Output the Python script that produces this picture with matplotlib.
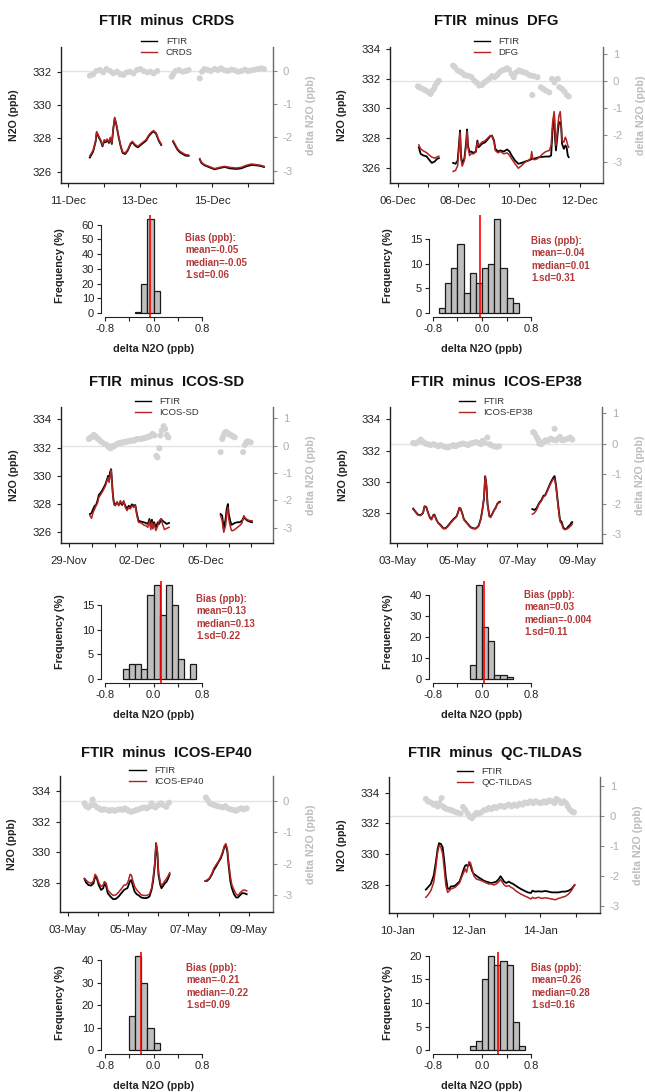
import numpy as np
import matplotlib
matplotlib.use("Agg")
import matplotlib.pyplot as plt

nan = np.nan

# ---------------- data (time in days from first tick date) ----------------
names = ["CRDS", "DFG", "ICOS-SD", "ICOS-EP38", "ICOS-EP40", "QC-TILDAS"]
day_labels = [
    ["11-Dec", "", "13-Dec", "", "15-Dec", ""],
    ["06-Dec", "", "08-Dec", "", "10-Dec", "", "12-Dec"],
    ["29-Nov", "", "", "02-Dec", "", "", "05-Dec", "", ""],
    ["03-May", "", "05-May", "", "07-May", "", "09-May"],
    ["03-May", "", "05-May", "", "07-May", "", "09-May"],
    ["10-Jan", "", "12-Jan", "", "14-Jan", ""],
]
n2o_ticks = [[326, 328, 330, 332], [326, 328, 330, 332, 334], [326, 328, 330, 332, 334],
             [328, 330, 332, 334], [328, 330, 332, 334], [328, 330, 332, 334]]
delta_ticks = [[-3, -2, -1, 0], [-3, -2, -1, 0, 1], [-3, -2, -1, 0, 1],
               [-3, -2, -1, 0, 1], [-3, -2, -1, 0], [-3, -2, -1, 0, 1]]

# panel 1 : CRDS
t1 = [0.61, 0.70, 0.77, 0.80, 0.86, 0.92, 0.96, 1.01, 1.05, 1.09, 1.14, 1.18, 1.22, 1.26, 1.30, 1.35,
      1.40, 1.46, 1.52, 1.59, 1.66, 1.74, 1.79, 1.87, 1.94, 2.02, 2.09, 2.17, 2.24, 2.32, 2.38, 2.45,
      2.52, 2.59, nan, 2.92, 2.97, 3.04, 3.11, 3.20, 3.27, 3.35, nan, 3.66, 3.70, 3.79, 3.93, 4.07,
      4.21, 4.35, 4.49, 4.67, 4.81, 4.95, 5.09, 5.23, 5.35, 5.44]
ftir1 = [326.85, 327.20, 327.80, 328.35, 328.05, 327.80, 327.52, 327.85, 327.76, 327.90, 327.72, 328.00,
         327.66, 328.56, 329.20, 328.76, 328.16, 327.56, 327.12, 327.06, 327.26, 327.66, 327.76, 327.56,
         327.46, 327.60, 327.72, 327.86, 328.12, 328.32, 328.42, 328.26, 327.86, 327.60, nan, 327.80,
         327.60, 327.32, 327.16, 327.04, 326.96, 326.95, nan, 326.74, 326.54, 326.38, 326.26, 326.14,
         326.22, 326.28, 326.20, 326.16, 326.20, 326.32, 326.40, 326.38, 326.34, 326.28]
ref1 = [326.95, 327.28, 327.85, 328.40, 328.12, 327.86, 327.58, 327.92, 327.82, 327.96, 327.78, 328.06,
        327.72, 328.62, 329.26, 328.82, 328.22, 327.62, 327.18, 327.12, 327.32, 327.72, 327.82, 327.62,
        327.52, 327.66, 327.78, 327.92, 328.18, 328.38, 328.46, 328.32, 327.92, 327.66, nan, 327.86,
        327.66, 327.38, 327.22, 327.10, 327.02, 327.00, nan, 326.78, 326.58, 326.42, 326.30, 326.18,
        326.26, 326.32, 326.26, 326.22, 326.26, 326.38, 326.46, 326.42, 326.38, 326.32]
td1 = [0.61, 0.70, 0.79, 0.89, 0.98, 1.07, 1.17, 1.26, 1.36, 1.45, 1.54, 1.64, 1.73, 1.82, 1.92, 2.01,
       2.10, 2.20, 2.29, 2.38, 2.48, 2.88, 2.92, 2.99, 3.08, 3.18, 3.27, 3.35, 3.66, 3.72, 3.79, 3.88,
       3.97, 4.07, 4.16, 4.25, 4.35, 4.44, 4.53, 4.63, 4.72, 4.81, 4.91, 5.00, 5.09, 5.19, 5.28, 5.37, 5.44]
d1 = [-0.15, -0.11, -0.01, 0.02, -0.05, 0.05, -0.01, -0.08, -0.03, -0.11, -0.13, -0.05, -0.03, -0.08,
      0.02, 0.05, -0.01, -0.05, -0.03, -0.08, -0.01, -0.18, -0.11, -0.01, 0.02, -0.03, -0.01, 0.02,
      -0.23, -0.03, 0.05, 0.02, -0.01, 0.05, 0.02, 0.07, 0.01, -0.01, 0.03, 0.01, -0.03, -0.01, 0.03,
      -0.01, 0.01, 0.03, 0.05, 0.07, 0.05]

# panel 2 : DFG
t2 = [0.70, 0.76, 0.85, 0.95, 1.06, 1.13, 1.22, 1.30, 1.36, nan, 1.83, 1.91, 1.98, 2.02, 2.06, 2.09,
      2.13, 2.20, 2.26, 2.29, 2.32, 2.37, 2.42, 2.50, 2.58, 2.63, 2.67, 2.78, 2.89, 3.00, 3.06, 3.11,
      3.18, 3.22, 3.31, 3.39, 3.50, 3.61, 3.69, 3.76, 3.87, 3.98, 4.09, 4.20, 4.31, 4.39, 4.42, 4.46,
      4.56, 4.67, 4.78, 4.89, 5.00, 5.06, 5.11, 5.16, 5.19, 5.22, 5.28, 5.32, 5.36, 5.39, 5.42, 5.48,
      5.53, 5.57, 5.61, 5.64]
ftir2 = [327.38, 326.93, 326.82, 326.77, 326.48, 326.32, 326.41, 326.59, 326.64, nan, 326.32, 326.26,
         326.48, 327.50, 328.51, 326.82, 326.26, 326.59, 327.72, 328.58, 327.50, 327.05, 327.09, 327.00,
         327.09, 327.83, 327.38, 327.61, 327.72, 327.99, 328.13, 328.17, 327.83, 327.27, 327.09, 327.16,
         327.09, 327.23, 327.09, 326.82, 326.48, 326.26, 326.32, 326.41, 326.48, 326.55, 326.59, 326.59,
         326.64, 326.71, 326.73, 326.75, 326.75, 326.82, 328.62, 329.60, 327.95, 327.16, 328.40, 329.07,
         329.07, 328.85, 327.61, 327.27, 327.50, 327.38, 326.82, 326.71]
ref2 = [327.54, 327.27, 327.13, 327.02, 326.82, 326.71, 326.64, 326.73, 326.77, nan, 325.74, 325.81,
        326.14, 327.27, 328.35, 326.59, 326.10, 326.48, 327.50, 328.44, 327.38, 326.82, 326.93, 326.93,
        327.05, 327.72, 327.50, 327.72, 327.83, 328.06, 328.17, 328.13, 327.72, 327.16, 327.00, 327.09,
        326.93, 327.00, 326.82, 326.59, 326.26, 325.96, 326.14, 326.37, 326.46, 326.64, 327.09, 326.55,
        326.55, 326.69, 326.93, 327.09, 327.16, 327.50, 329.07, 329.79, 328.40, 327.50, 328.85, 329.52,
        329.79, 329.07, 327.83, 327.72, 328.06, 327.83, 327.50, 327.38]
td2 = [0.67, 0.72, 0.78, 0.87, 0.94, 1.02, 1.09, 1.14, 1.20, 1.24, 1.30, 1.36,
       1.83, 1.89, 1.98, 2.06, 2.13, 2.20, 2.28, 2.36, 2.44, 2.53, 2.61, 2.69, 2.78, 2.87, 2.94, 3.02,
       3.11, 3.20, 3.28, 3.36, 3.44, 3.53, 3.61, 3.67, 3.76, 3.83, 3.91, 4.00, 4.09, 4.17, 4.24, 4.33,
       4.41, 4.44, 4.50, 4.61, 4.72, 4.80, 4.89, 5.00, 5.09, 5.17, 5.28, 5.33, 5.42, 5.50, 5.58, 5.64]
d2 = [-0.19, -0.22, -0.26, -0.31, -0.35, -0.41, -0.47, -0.35, -0.28, -0.16, -0.06, 0.02,
      0.58, 0.52, 0.40, 0.36, 0.31, 0.23, 0.21, 0.19, 0.15, 0.02, -0.06, -0.16, -0.14, -0.04, 0.02, 0.09,
      0.19, 0.15, 0.23, 0.33, 0.40, 0.43, 0.48, 0.43, 0.27, 0.15, 0.33, 0.40, 0.36, 0.33, 0.31, 0.23,
      0.21, -0.51, 0.19, 0.15, -0.22, -0.28, -0.35, -0.41, 0.09, -0.04, 0.09, -0.22, -0.28, -0.38, -0.51, -0.56]

# panel 3 : ICOS-SD
t3 = [0.92, 0.99, 1.06, 1.13, 1.19, 1.25, 1.31, 1.38, 1.45, 1.53, 1.60, 1.67, 1.72, 1.76, 1.80, 1.85,
      1.89, 1.93, 1.98, 2.04, 2.11, 2.18, 2.25, 2.33, 2.40, 2.47, 2.55, 2.62, 2.69, 2.76, 2.84, 2.91,
      2.98, 3.05, 3.17, 3.27, 3.37, 3.46, 3.53, 3.59, 3.64, 3.68, 3.74, 3.81, 3.90, 3.96, 4.04, 4.10,
      4.19, 4.29, 4.39, nan, 6.65, 6.72, 6.79, 6.87, 6.92, 6.97, 7.01, 7.07, 7.13, 7.20, 7.27, 7.39,
      7.49, 7.59, 7.67, 7.74, 7.83, 7.93, 8.03]
ftir3 = [327.29, 327.36, 327.65, 327.88, 327.93, 328.24, 328.64, 328.78, 328.94, 329.18, 329.41, 329.76,
         330.00, 329.65, 330.24, 330.47, 329.53, 328.59, 328.00, 328.00, 328.12, 327.93, 328.12, 327.93,
         328.16, 327.88, 327.65, 327.88, 327.76, 327.98, 327.88, 327.93, 327.29, 326.82, 326.75, 326.71,
         326.66, 326.59, 326.94, 326.47, 326.89, 326.52, 326.71, 326.35, 326.71, 326.59, 326.94, 326.82,
         326.71, 326.59, 326.66, nan, 327.29, 327.18, 326.24, 326.94, 327.65, 328.00, 327.29, 326.82,
         326.52, 326.59, 326.66, 326.71, 326.71, 326.82, 327.06, 326.94, 326.82, 326.75, 326.71]
ref3 = [327.18, 326.99, 327.41, 327.65, 327.88, 328.07, 328.47, 328.64, 328.82, 329.06, 329.29, 329.65,
        329.88, 329.53, 330.00, 330.42, 329.41, 328.47, 327.93, 327.88, 328.16, 327.88, 328.24, 328.00,
        328.24, 327.76, 327.53, 327.76, 327.65, 327.88, 327.76, 327.88, 327.18, 326.71, 326.66, 326.52,
        326.47, 326.35, 326.82, 326.19, 326.71, 326.24, 326.59, 326.12, 326.47, 326.82, 326.94, 326.59,
        326.19, 326.28, 326.35, nan, 327.18, 326.82, 326.00, 326.47, 327.29, 327.76, 326.94, 326.47,
        326.12, 326.12, 326.19, 326.35, 326.47, 326.66, 327.18, 326.99, 326.89, 326.82, 326.82]
td3 = [0.87, 0.93, 0.99, 1.04, 1.09, 1.16, 1.22, 1.28, 1.36, 1.45, 1.56, 1.67, 1.75, 1.82, 1.89, 1.95,
       2.01, 2.11, 2.18, 2.25, 2.33, 2.40, 2.47, 2.55, 2.62, 2.69, 2.76, 2.84, 2.91, 2.98, 3.05, 3.13,
       3.20, 3.27, 3.35, 3.42, 3.49, 3.56, 3.62, 3.67, 3.75, 3.83, 3.88, 3.96, 4.01, 4.07, 4.15, 4.22,
       4.29, 4.36, 6.65, 6.72, 6.77, 6.81, 6.86, 6.91, 6.96, 7.01, 7.07, 7.13, 7.20, 7.27, 7.64, 7.71,
       7.78, 7.83, 7.88, 7.97]
d3 = [0.24, 0.28, 0.30, 0.36, 0.39, 0.34, 0.29, 0.24, 0.18, 0.12, 0.06, 0.02, -0.06, -0.10, -0.02, -0.04,
      0.00, 0.06, 0.08, 0.10, 0.11, 0.12, 0.13, 0.15, 0.16, 0.18, 0.18, 0.18, 0.21, 0.24, 0.24, 0.24,
      0.25, 0.27, 0.28, 0.30, 0.32, 0.34, 0.38, 0.43, 0.37, -0.37, -0.43, -0.10, 0.37, 0.55, 0.71, 0.61,
      0.39, 0.30, -0.24, 0.24, 0.34, 0.43, 0.49, 0.49, 0.46, 0.43, 0.39, 0.37, 0.34, 0.30, -0.24, 0.02,
      0.12, 0.15, 0.15, 0.12]

# panel 4 : ICOS-EP38
t4 = [0.53, 0.61, 0.69, 0.78, 0.86, 0.91, 0.97, 1.02, 1.09, 1.14, 1.20, 1.24, 1.30, 1.36, 1.44, 1.53,
      1.61, 1.69, 1.78, 1.87, 1.93, 1.98, 2.02, 2.07, 2.11, 2.17, 2.22, 2.29, 2.36, 2.44, 2.53, 2.62,
      2.71, 2.78, 2.83, 2.89, 2.93, 2.97, 3.01, 3.07, 3.11, 3.17, 3.22, 3.28, 3.33, 3.39, 3.42, nan,
      4.50, 4.56, 4.64, 4.72, 4.80, 4.87, 4.93, 5.00, 5.07, 5.13, 5.19, 5.24, 5.29, 5.33, 5.38, 5.42,
      5.48, 5.53, 5.59, 5.64, 5.70, 5.76, 5.81, 5.83]
ftir4 = [328.30, 328.10, 327.92, 327.88, 328.02, 328.45, 328.40, 328.08, 327.72, 327.62, 327.88, 327.92,
         327.62, 327.40, 327.26, 327.05, 327.04, 327.20, 327.42, 327.62, 327.72, 327.82, 328.04, 328.35,
         328.30, 327.98, 327.62, 327.46, 327.30, 327.12, 327.04, 327.03, 327.20, 327.62, 328.14, 328.98,
         330.36, 329.82, 328.56, 327.82, 327.78, 327.98, 328.18, 328.36, 328.60, 328.72, 328.74, nan,
         328.27, 328.21, 328.32, 328.63, 328.84, 329.12, 329.16, 329.47, 329.79, 330.04, 330.25, 330.38,
         329.79, 329.05, 328.21, 327.58, 327.43, 327.09, 326.99, 327.01, 327.16, 327.26, 327.43, 327.43]
ref4 = [328.27, 328.06, 327.89, 327.85, 328.00, 328.42, 328.36, 328.06, 327.68, 327.58, 327.85, 327.89,
        327.58, 327.37, 327.22, 327.01, 327.01, 327.16, 327.37, 327.58, 327.68, 327.79, 328.00, 328.32,
        328.27, 327.94, 327.58, 327.43, 327.26, 327.09, 327.01, 327.01, 327.16, 327.58, 328.11, 328.95,
        330.38, 329.79, 328.53, 327.79, 327.73, 327.94, 328.15, 328.32, 328.57, 328.67, 328.69, nan,
        327.94, 328.00, 328.21, 328.57, 328.78, 329.05, 329.12, 329.41, 329.73, 329.96, 330.17, 330.21,
        329.68, 328.95, 328.11, 327.47, 327.31, 327.01, 326.95, 326.99, 327.05, 327.16, 327.26, 327.31]
td4 = [0.53, 0.61, 0.69, 0.78, 0.87, 0.94, 1.02, 1.11, 1.20, 1.28, 1.36, 1.44, 1.53, 1.61, 1.69, 1.78,
       1.87, 1.94, 2.02, 2.11, 2.20, 2.28, 2.36, 2.44, 2.53, 2.62, 2.71, 2.78, 2.84, 2.91, 3.00, 3.07,
       3.13, 3.22, 3.31, 3.39, 4.53, 4.58, 4.64, 4.69, 4.73, 4.80, 4.87, 4.94, 5.02, 5.11, 5.19, 5.24,
       5.29, 5.36, 5.42, 5.50, 5.58, 5.67, 5.76, 5.83]
d4 = [0.02, 0.00, 0.05, 0.13, 0.05, 0.00, -0.02, -0.05, -0.02, -0.05, -0.09, -0.05, -0.09, -0.11, -0.13,
      -0.09, -0.05, -0.09, -0.05, -0.02, 0.00, -0.02, -0.05, 0.00, 0.02, 0.05, 0.02, -0.02, 0.09, 0.02,
      0.20, -0.02, -0.05, -0.09, -0.11, -0.09, 0.38, 0.33, 0.22, 0.13, 0.00, -0.02, 0.05, 0.11, 0.09,
      0.16, 0.13, 0.49, 0.11, 0.16, 0.22, 0.11, 0.13, 0.16, 0.20, 0.13]

# panel 5 : ICOS-EP40
t5 = [0.56, 0.61, 0.69, 0.78, 0.86, 0.91, 0.97, 1.03, 1.11, 1.18, 1.22, 1.28, 1.33, 1.42, 1.51, 1.60,
      1.69, 1.78, 1.87, 1.93, 1.98, 2.02, 2.07, 2.11, 2.17, 2.22, 2.29, 2.36, 2.44, 2.53, 2.62, 2.71,
      2.78, 2.83, 2.89, 2.93, 2.97, 3.01, 3.07, 3.11, 3.17, 3.22, 3.28, 3.33, 3.38, nan, 4.56, 4.61,
      4.69, 4.78, 4.84, 4.91, 5.00, 5.07, 5.13, 5.20, 5.24, 5.29, 5.33, 5.39, 5.44, 5.51, 5.58, 5.64,
      5.70, 5.78, 5.84, 5.93]
ftir5 = [328.28, 328.06, 327.89, 327.85, 328.00, 328.43, 328.32, 327.89, 327.57, 327.68, 328.00, 327.79,
         327.36, 327.14, 326.97, 326.99, 327.14, 327.36, 327.57, 327.64, 327.68, 327.89, 328.15, 328.21,
         327.79, 327.46, 327.29, 327.21, 327.08, 327.04, 327.04, 327.14, 327.57, 328.11, 329.18, 330.57,
         330.03, 328.54, 327.89, 327.68, 327.85, 328.00, 328.11, 328.32, 328.58, nan, 328.15, 328.15,
         328.28, 328.58, 328.86, 329.07, 329.39, 329.61, 329.93, 330.42, 330.46, 330.03, 329.18, 328.11,
         327.68, 327.29, 327.08, 327.08, 327.21, 327.36, 327.36, 327.29]
ref5 = [328.32, 328.21, 328.06, 328.00, 328.15, 328.58, 328.43, 328.06, 327.79, 327.89, 328.11, 328.00,
        327.57, 327.36, 327.21, 327.25, 327.42, 327.64, 327.89, 327.89, 328.00, 328.21, 328.58, 328.54,
        328.11, 327.79, 327.57, 327.42, 327.25, 327.21, 327.21, 327.29, 327.68, 328.32, 329.39, 330.63,
        330.14, 328.75, 328.06, 327.85, 328.00, 328.15, 328.32, 328.47, 328.69, nan, 328.15, 328.21,
        328.32, 328.64, 328.96, 329.18, 329.43, 329.71, 330.03, 330.46, 330.57, 330.21, 329.39, 328.43,
        327.89, 327.57, 327.29, 327.21, 327.36, 327.51, 327.57, 327.51]
td5 = [0.56, 0.61, 0.69, 0.78, 0.83, 0.89, 0.98, 1.06, 1.13, 1.22, 1.31, 1.39, 1.47, 1.56, 1.64, 1.73,
       1.82, 1.89, 1.96, 2.02, 2.11, 2.20, 2.28, 2.36, 2.44, 2.53, 2.62, 2.71, 2.78, 2.84, 2.91, 3.00,
       3.09, 3.18, 3.27, 3.36, 4.58, 4.64, 4.71, 4.78, 4.87, 4.96, 5.04, 5.13, 5.22, 5.31, 5.40, 5.49,
       5.58, 5.67, 5.76, 5.84, 5.93]
d5 = [-0.08, -0.17, -0.21, -0.14, 0.04, -0.14, -0.21, -0.25, -0.29, -0.27, -0.29, -0.32, -0.29, -0.32,
      -0.29, -0.27, -0.29, -0.24, -0.27, -0.32, -0.35, -0.32, -0.29, -0.27, -0.24, -0.21, -0.24, -0.19,
      -0.08, -0.17, -0.21, -0.14, -0.08, -0.14, -0.19, -0.06, 0.11, 0.02, -0.08, -0.11, -0.14, -0.17,
      -0.19, -0.21, -0.17, -0.24, -0.27, -0.29, -0.32, -0.27, -0.24, -0.27, -0.24]

# panel 6 : QC-TILDAS
t6 = [0.80, 0.86, 0.94, 1.02, 1.08, 1.13, 1.17, 1.22, 1.27, 1.32, 1.36, 1.41, 1.46, 1.50, 1.55, 1.62,
      1.67, 1.74, 1.80, 1.86, 1.90, 1.94, 1.97, 2.01, 2.05, 2.09, 2.14, 2.21, 2.27, 2.35, 2.42, 2.49,
      2.56, 2.63, 2.71, 2.77, 2.84, 2.89, 2.93, 2.99, 3.05, 3.12, 3.18, 3.24, 3.31, 3.38, 3.46, 3.55,
      3.65, 3.74, 3.78, 3.85, 3.95, 4.04, 4.14, 4.23, 4.32, 4.42, 4.51, 4.61, 4.70, 4.79, 4.87, 4.92, 4.96]
ftir6 = [327.70, 327.85, 328.07, 328.61, 329.48, 330.35, 330.72, 330.67, 330.46, 329.48, 328.50, 327.78,
         327.74, 327.91, 327.91, 327.96, 328.07, 328.22, 328.61, 329.04, 329.26, 329.30, 329.22, 329.37,
         329.26, 328.93, 328.72, 328.61, 328.50, 328.39, 328.28, 328.22, 328.17, 328.13, 328.17, 328.22,
         328.39, 328.57, 328.43, 328.22, 328.13, 328.22, 328.13, 328.07, 327.96, 327.85, 327.74, 327.63,
         327.52, 327.48, 327.63, 327.57, 327.59, 327.57, 327.61, 327.57, 327.52, 327.52, 327.52, 327.57,
         327.57, 327.63, 327.74, 327.89, 328.00]
ref6 = [327.20, 327.35, 327.63, 328.17, 329.15, 330.13, 330.57, 330.46, 330.02, 328.93, 327.96, 327.52,
        327.63, 327.74, 327.78, 327.85, 327.96, 328.13, 328.50, 328.83, 329.04, 328.83, 329.15, 329.52,
        329.43, 329.09, 328.61, 328.39, 328.35, 328.28, 328.22, 328.13, 328.07, 328.07, 328.00, 328.07,
        328.22, 328.35, 328.22, 328.00, 327.91, 327.96, 327.85, 327.78, 327.63, 327.52, 327.41, 327.30,
        327.20, 327.09, 327.20, 327.13, 327.20, 327.13, 327.17, 327.13, 327.09, 327.04, 327.13, 327.20,
        327.26, 327.41, 327.63, 327.85, 328.00]
td6 = [0.80, 0.86, 0.94, 1.02, 1.08, 1.13, 1.18, 1.24, 1.28, 1.33, 1.39, 1.46, 1.52, 1.60, 1.67, 1.77,
       1.84, 1.90, 1.97, 2.03, 2.09, 2.14, 2.21, 2.27, 2.35, 2.42, 2.49, 2.56, 2.63, 2.71, 2.77, 2.84,
       2.91, 2.99, 3.05, 3.12, 3.20, 3.27, 3.35, 3.42, 3.50, 3.57, 3.65, 3.72, 3.80, 3.87, 3.95, 4.02,
       4.10, 4.17, 4.25, 4.32, 4.40, 4.45, 4.51, 4.59, 4.66, 4.72, 4.77, 4.83, 4.89, 4.94]
d6 = [0.56, 0.48, 0.44, 0.37, 0.40, 0.31, 0.42, 0.59, 0.31, 0.26, 0.22, 0.20, 0.18, 0.14, 0.11, 0.07,
      0.29, 0.20, 0.07, -0.04, -0.08, 0.00, 0.09, 0.07, 0.11, 0.18, 0.20, 0.26, 0.22, 0.29, 0.26, 0.31,
      0.33, 0.29, 0.33, 0.37, 0.31, 0.37, 0.33, 0.40, 0.37, 0.44, 0.42, 0.48, 0.42, 0.48, 0.44, 0.42,
      0.48, 0.44, 0.51, 0.48, 0.42, 0.56, 0.51, 0.42, 0.48, 0.42, 0.31, 0.20, 0.14, 0.11]

# histograms of delta N2O (bin edges, frequency %)
edges = [[-0.3, -0.2, -0.1, 0.0, 0.1],
         [-0.7, -0.6, -0.5, -0.4, -0.3, -0.2, -0.1, 0.0, 0.1, 0.2, 0.3, 0.4, 0.5, 0.6],
         [-0.5, -0.4, -0.3, -0.2, -0.1, 0.0, 0.1, 0.2, 0.3, 0.4, 0.5, 0.6, 0.7],
         [-0.2, -0.1, 0.0, 0.1, 0.2, 0.3, 0.4, 0.5],
         [-0.4, -0.3, -0.2, -0.1, 0.0, 0.1],
         [-0.2, -0.1, 0.0, 0.1, 0.2, 0.3, 0.4, 0.5, 0.6, 0.7]]
freqs = [[1, 20, 64, 15],
         [1, 6, 9, 14, 4, 8, 6, 9, 10, 19, 9, 3, 2],
         [2, 3, 3, 2, 17, 19, 13, 19, 15, 4, 0, 3],
         [7, 45, 25, 18, 2, 2, 1],
         [15, 42, 30, 10, 3],
         [1, 2, 15, 20, 18, 19, 18, 6, 1]]
freq_ticks = [[0, 10, 20, 30, 40, 50, 60], [0, 5, 10, 15], [0, 5, 10, 15],
              [0, 10, 20, 30, 40], [0, 10, 20, 30, 40], [0, 5, 10, 15, 20]]
bias_mean = [-0.05, -0.04, 0.13, 0.03, -0.21, 0.26]
bias_median = ["-0.05", "0.01", "0.13", "-0.004", "-0.22", "0.28"]
bias_sd = ["0.06", "0.31", "0.22", "0.11", "0.09", "0.16"]

times = [t1, t2, t3, t4, t5, t6]
ftirs = [ftir1, ftir2, ftir3, ftir4, ftir5, ftir6]
refs = [ref1, ref2, ref3, ref4, ref5, ref6]
dtimes = [td1, td2, td3, td4, td5, td6]
deltas = [d1, d2, d3, d4, d5, d6]

# ---------------- layout (pixels) ----------------
W, H = 645, 1092
top_box = [(61, 47, 273, 183), (390, 47, 603, 183), (61, 407, 273, 543),
           (390, 407, 602, 543), (60, 776, 273, 912), (389, 777, 600, 913)]
hist_box = [(101, 215, 206, 317), (429, 215, 535, 317), (101, 581, 206, 683),
            (429, 581, 535, 683), (101, 952, 206, 1054), (429, 952, 535, 1054)]
title_y = [21, 21, 382, 382, 753, 753]
stats_xy = [(185, 233), (531, 236), (196, 594), (524, 590), (186, 963), (531, 963)]
xlims = [(-0.19, 5.69), (-0.25, 6.77), (-0.35, 8.95), (-0.24, 6.82), (-0.25, 6.80), (-0.23, 5.67)]
ylims = [(325.32, 333.48), (324.96, 334.16), (325.24, 334.87), (326.10, 334.79), (326.14, 334.95), (326.18, 335.02)]
dlims = [(-3.37, 0.71), (-3.77, 1.27), (-3.56, 1.41), (-3.29, 1.21), (-3.54, 0.79), (-3.24, 1.29)]

plt.rcParams['font.family'] = ['Liberation Sans', 'DejaVu Sans']
plt.rcParams['axes.unicode_minus'] = False

fig = plt.figure(figsize=(W / 100, H / 100), dpi=100)


def box(l, t, r, b):
    return [l / W, 1 - b / H, (r - l) / W, (b - t) / H]


DARK = '#222222'
REDLINE = '#b22222'
BIAS = '#b23a3a'

for i in range(6):
    l, t, r, b = top_box[i]
    ax = fig.add_axes(box(l, t, r, b))
    ax2 = ax.twinx()
    ax.set_zorder(ax2.get_zorder() + 1)
    ax.patch.set_visible(False)

    ax2.axhline(0, color='#e4e4e4', lw=1.0, zorder=1)
    ax2.scatter(dtimes[i], deltas[i], s=19, color='#d3d3d3', edgecolors='none', zorder=2)
    ax.plot(times[i], ftirs[i], color='black', lw=1.3, label='FTIR')
    ax.plot(times[i], refs[i], color=REDLINE, lw=1.1, label=names[i])

    ax.set_xlim(xlims[i])
    ax.set_ylim(ylims[i])
    ax2.set_ylim(dlims[i])
    ax.set_xticks(range(len(day_labels[i])))
    ax.set_xticklabels(day_labels[i])
    ax.set_yticks(n2o_ticks[i])
    ax.set_yticklabels([str(v) for v in n2o_ticks[i]])
    ax2.set_yticks(delta_ticks[i])
    ax2.set_yticklabels([str(v) for v in delta_ticks[i]])

    for s in ['top', 'right']:
        ax.spines[s].set_visible(False)
    for s in ['top', 'left', 'bottom']:
        ax2.spines[s].set_visible(False)
    ax.spines['left'].set_color(DARK)
    ax.spines['bottom'].set_color(DARK)
    ax2.spines['right'].set_color('#6a6a6a')
    for s in ['left', 'bottom']:
        ax.spines[s].set_linewidth(1.0)
    ax2.spines['right'].set_linewidth(1.0)

    ax.tick_params(axis='x', labelsize=8.2, length=3, width=0.8, color=DARK, labelcolor=DARK, pad=6.5)
    ax.tick_params(axis='y', labelsize=8.2, length=3, width=0.8, color=DARK, labelcolor=DARK, pad=4)
    ax2.tick_params(axis='y', labelsize=8.2, length=3, width=0.8, color='#8a8a8a',
                    labelcolor='#b0b0b0', pad=4)

    ax.set_ylabel('N2O (ppb)', fontsize=7.7, fontweight='bold', color=DARK)
    ax.yaxis.set_label_coords(-0.2, 0.5)
    ax2.set_ylabel('delta N2O (ppb)', fontsize=7.7, fontweight='bold', color='#bdbdbd')
    ax2.yaxis.set_label_coords(1.155, 0.5)

    leg = ax.legend(loc='center', bbox_to_anchor=(0.5, 1.0), frameon=False, fontsize=6.8,
                    handlelength=1.7, handletextpad=0.9, labelspacing=0.2, borderpad=0)
    for txt in leg.get_texts():
        txt.set_color('#333333')
    for ln in leg.get_lines():
        ln.set_linewidth(1.0)

    fig.text(((l + r) / 2) / W, 1 - title_y[i] / H, 'FTIR  minus  ' + names[i],
             ha='center', va='center', fontsize=10.7, fontweight='bold', color='#111111')

    # histogram
    hl, ht, hr, hb = hist_box[i]
    hx = fig.add_axes(box(hl, ht, hr, hb))
    e = np.array(edges[i])
    f = freqs[i]
    hx.bar(e[:-1], f, width=np.diff(e), align='edge', color='#bebebe', edgecolor='#1a1a1a', lw=0.9)
    hx.axvline(bias_mean[i], color='red', lw=1.2)
    m = max(f)
    hx.set_xlim(-0.864, 0.864)
    hx.set_ylim(-0.04 * m, 1.04 * m)
    hx.set_xticks([-0.8, -0.4, 0.0, 0.4, 0.8])
    hx.set_xticklabels(['-0.8', '', '0.0', '', '0.8'])
    hx.set_yticks(freq_ticks[i])
    hx.set_yticklabels([str(v) for v in freq_ticks[i]])
    for s in ['top', 'right']:
        hx.spines[s].set_visible(False)
    hx.spines['left'].set_bounds(0, freq_ticks[i][-1])
    hx.spines['bottom'].set_bounds(-0.8, 0.8)
    hx.spines['left'].set_color(DARK)
    hx.spines['bottom'].set_color(DARK)
    hx.tick_params(labelsize=8, length=3, width=0.8, color=DARK, labelcolor=DARK, pad=2)
    hx.set_ylabel('Frequency (%)', fontsize=7.8, fontweight='bold', color=DARK)
    hx.yaxis.set_label_coords(-0.34, 0.5)
    hx.set_xlabel('delta N2O (ppb)', fontsize=7.8, fontweight='bold', color=DARK)
    hx.xaxis.set_label_coords(0.5, -0.31)
    hx.xaxis.label.set_va('center')

    sx, sy = stats_xy[i]
    fig.text(sx / W, 1 - sy / H,
             'Bias (ppb):\nmean=%s\nmedian=%s\n1.sd=%s' % (('%.2f' % bias_mean[i]), bias_median[i], bias_sd[i]),
             ha='left', va='top', fontsize=7.0, fontweight='bold', color=BIAS, linespacing=1.3)

fig.savefig('out.png', dpi=100, facecolor='white')
